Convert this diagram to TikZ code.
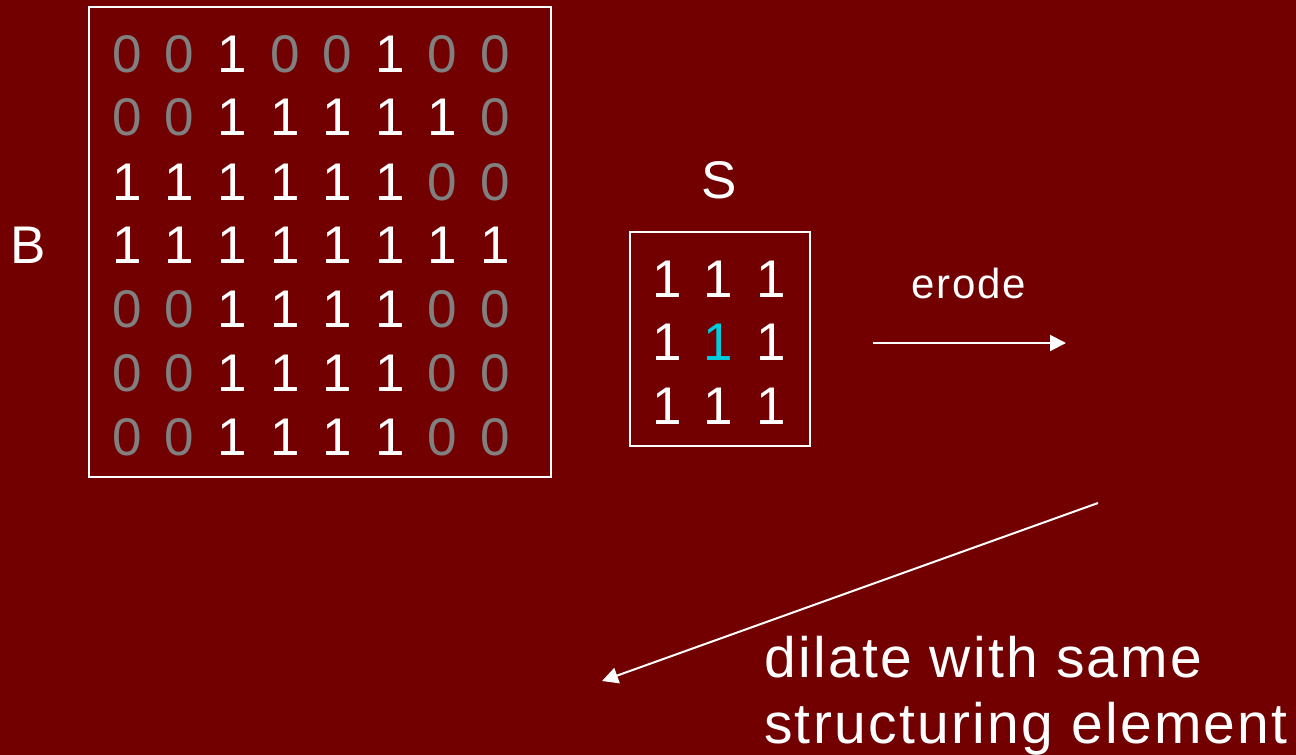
\documentclass[tikz,border=0pt]{standalone}
\usepackage{fontspec}
\setmainfont{Liberation Sans}
\newfontfamily\spaced[LetterSpace=4.0]{Liberation Sans}
\usetikzlibrary{arrows.meta}
\definecolor{bgred}{RGB}{114,0,0}
\definecolor{zgray}{RGB}{128,128,128}
\definecolor{ccyan}{RGB}{0,204,221}
\tikzset{
  dig/.style={anchor=base, inner sep=0pt, text=white, font=\fontsize{53}{60}\selectfont},
  zero/.style={dig, text=zgray},
  lbl/.style={anchor=base, inner sep=0pt, text=white, font=\fontsize{53}{60}\selectfont},
  wlbl/.style={anchor=base, inner sep=0pt, text=white},
  frame/.style={draw=white, line width=2pt, inner sep=0pt},
  arr/.style={draw=white, line width=2pt, -{Triangle[length=16pt,width=16pt]}}
}
\def\rowA{0,0,1,0,0,1,0,0}
\def\rowB{0,0,1,1,1,1,1,0}
\def\rowC{1,1,1,1,1,1,0,0}
\def\rowD{1,1,1,1,1,1,1,1}
\def\rowE{0,0,1,1,1,1,0,0}
\def\rowF{0,0,1,1,1,1,0,0}
\def\rowG{0,0,1,1,1,1,0,0}
\begin{document}
\begin{tikzpicture}[x=1pt,y=-1pt]
\fill[bgred] (0,0) rectangle (1296,755);
\useasboundingbox (0,0) rectangle (1296,755);
% B matrix
\node[frame, minimum width=462pt, minimum height=470pt] (Bbox) at (320,242) {};
\foreach \rw/\yy [count=\r] in {A/72,B/135,C/200,D/263,E/327,F/391,G/455}{
  \edef\cur{\csname row\rw\endcsname}
  \foreach \v [count=\c] in \cur {
    \pgfmathsetmacro{\xx}{127+52.6*(\c-1)}
    \ifnum\v=0
      \node[zero] (m-\r-\c) at (\xx,\yy) {0};
    \else
      \node[dig] (m-\r-\c) at (\xx,\yy) {1};
    \fi
  }
}
\node[lbl] (Blabel) at (28,263) {B};
% S matrix
\node[lbl] (Slabel) at (719,198) {S};
\node[frame, minimum width=180pt, minimum height=214pt] (Sbox) at (720,339) {};
\foreach \yy [count=\r] in {297,360,424}{
  \foreach \xx [count=\c] in {667,718,771}{
    \ifnum\r=2 \ifnum\c=2
      \node[dig, text=ccyan] (s-\r-\c) at (\xx,\yy) {1};
    \else
      \node[dig] (s-\r-\c) at (\xx,\yy) {1};
    \fi \else
      \node[dig] (s-\r-\c) at (\xx,\yy) {1};
    \fi
  }
}
% erode arrow
\node[wlbl, font=\spaced\fontsize{42}{48}\selectfont] (erode) at (969,298) {erode};
\coordinate (e1) at (873,343);
\coordinate (e2) at (1066,343);
\draw[arr] (e1) -- (e2);
% dilate arrow
\coordinate (d1) at (1098,503);
\coordinate (d2) at (602,681);
\draw[arr] (d1) -- (d2);
\node[wlbl, anchor=base west, font=\spaced\fontsize{57}{66}\selectfont, align=left] (dil) at (764,743) {dilate with same\\structuring element};
\end{tikzpicture}
\end{document}
